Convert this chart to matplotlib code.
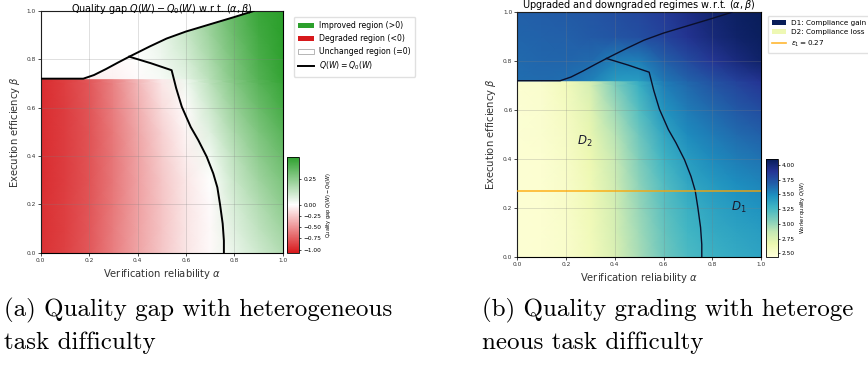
import numpy as np
import matplotlib
matplotlib.use("Agg")
import matplotlib.pyplot as plt
from matplotlib.colors import LinearSegmentedColormap, TwoSlopeNorm, Normalize
from matplotlib.patches import Patch, Polygon
from matplotlib.lines import Line2D

# ---------------- data ----------------
alpha_grid = [0.0, 0.1, 0.2, 0.3, 0.4, 0.5, 0.6, 0.7, 0.8, 0.9, 1.0]
# beta 0.72 appears twice: value just below / just above the jump
beta_grid = [0.0, 0.1, 0.2, 0.3, 0.4, 0.5, 0.6, 0.7, 0.72, 0.72, 0.8, 0.9, 1.0]

gap_rows = [
    [-0.95, -0.88, -0.77, -0.60, -0.42, -0.26, -0.12, -0.03, 0.05, 0.11, 0.17],
    [-0.96, -0.89, -0.78, -0.61, -0.43, -0.27, -0.12, -0.03, 0.07, 0.14, 0.21],
    [-0.96, -0.89, -0.79, -0.62, -0.44, -0.27, -0.12, -0.02, 0.09, 0.17, 0.25],
    [-0.97, -0.90, -0.80, -0.63, -0.44, -0.26, -0.11, 0.00, 0.12, 0.21, 0.29],
    [-0.97, -0.90, -0.80, -0.63, -0.43, -0.24, -0.08, 0.03, 0.15, 0.25, 0.33],
    [-0.97, -0.90, -0.80, -0.62, -0.41, -0.21, -0.05, 0.07, 0.19, 0.29, 0.37],
    [-0.97, -0.90, -0.79, -0.60, -0.38, -0.16, -0.01, 0.11, 0.23, 0.33, 0.41],
    [-0.97, -0.89, -0.78, -0.58, -0.34, -0.11, 0.03, 0.15, 0.27, 0.37, 0.44],
    [-0.97, -0.89, -0.77, -0.57, -0.33, -0.10, 0.04, 0.16, 0.28, 0.38, 0.45],
    [0.00, 0.00, -0.08, -0.06, -0.02, 0.02, 0.06, 0.16, 0.28, 0.38, 0.45],
    [0.00, 0.00, 0.00, -0.03, 0.00, 0.04, 0.09, 0.19, 0.30, 0.40, 0.46],
    [0.00, 0.00, 0.00, 0.00, 0.00, 0.05, 0.12, 0.22, 0.33, 0.42, 0.47],
    [0.00, 0.00, 0.00, 0.00, 0.00, 0.06, 0.14, 0.24, 0.35, 0.44, 0.47],
]

quality_rows = [
    [2.48, 2.49, 2.52, 2.60, 2.76, 2.95, 3.12, 3.24, 3.30, 3.34, 3.37],
    [2.48, 2.49, 2.52, 2.61, 2.78, 2.97, 3.15, 3.27, 3.34, 3.38, 3.41],
    [2.48, 2.49, 2.53, 2.62, 2.80, 3.00, 3.18, 3.31, 3.38, 3.43, 3.47],
    [2.48, 2.49, 2.53, 2.63, 2.82, 3.03, 3.22, 3.36, 3.43, 3.49, 3.53],
    [2.48, 2.49, 2.54, 2.65, 2.85, 3.07, 3.28, 3.42, 3.50, 3.56, 3.60],
    [2.48, 2.50, 2.55, 2.68, 2.90, 3.13, 3.36, 3.50, 3.57, 3.63, 3.68],
    [2.48, 2.50, 2.57, 2.72, 2.97, 3.21, 3.46, 3.57, 3.64, 3.71, 3.77],
    [2.49, 2.51, 2.60, 2.78, 3.06, 3.31, 3.55, 3.64, 3.72, 3.80, 3.87],
    [2.49, 2.51, 2.61, 2.80, 3.08, 3.34, 3.57, 3.66, 3.74, 3.82, 3.89],
    [3.62, 3.63, 3.62, 3.55, 3.42, 3.42, 3.58, 3.67, 3.75, 3.83, 3.90],
    [3.64, 3.65, 3.66, 3.64, 3.55, 3.55, 3.68, 3.78, 3.88, 3.97, 4.04],
    [3.66, 3.67, 3.68, 3.70, 3.73, 3.76, 3.82, 3.90, 3.98, 4.04, 4.08],
    [3.68, 3.69, 3.70, 3.72, 3.76, 3.80, 3.86, 3.94, 4.01, 4.06, 4.09],
]

upper_alpha = [0.0, 0.176, 0.22, 0.27, 0.32, 0.366, 0.45, 0.52, 0.60, 0.713, 0.80, 0.88]
upper_beta = [0.72, 0.72, 0.735, 0.76, 0.787, 0.811, 0.853, 0.886, 0.915, 0.949, 0.975, 1.0]

lower_alpha = [0.366, 0.455, 0.541, 0.560, 0.583, 0.620, 0.651, 0.686, 0.713, 0.730, 0.741, 0.752, 0.757, 0.757]
lower_beta = [0.811, 0.784, 0.755, 0.680, 0.604, 0.520, 0.466, 0.397, 0.328, 0.270, 0.200, 0.120, 0.050, 0.0]

epsilon1 = 0.27
gap_ticks = [0.25, 0.0, -0.25, -0.5, -0.75, -1.0]
quality_ticks = [2.50, 2.75, 3.00, 3.25, 3.50, 3.75, 4.00]
axis_ticks = [0.0, 0.2, 0.4, 0.6, 0.8, 1.0]

# ---------------- figure ----------------
W, H = 868, 366
fig = plt.figure(figsize=(W / 100, H / 100), dpi=100)


def fax(x0, y0, x1, y1):
    return fig.add_axes([x0 / W, 1 - y1 / H, (x1 - x0) / W, (y1 - y0) / H])


A, B = np.meshgrid(alpha_grid, beta_grid)
GAP = np.array(gap_rows)
QUAL = np.array(quality_rows)

tick_fs = 4.2
lab_fs = 7.2


def style_axes(ax):
    ax.set_xlim(0, 1)
    ax.set_ylim(0, 1)
    ax.set_xticks(axis_ticks)
    ax.set_yticks(axis_ticks)
    ax.tick_params(labelsize=tick_fs, length=2, width=0.5, pad=1.5, labelcolor="#333333")
    ax.grid(True, color="gray", alpha=0.35, lw=0.5)
    ax.set_axisbelow(False)
    ax.set_xlabel(r"Verification reliability $\alpha$", fontsize=lab_fs, labelpad=3.5, color="#333333")
    ax.set_ylabel(r"Execution efficiency $\beta$", fontsize=lab_fs, labelpad=3.5, color="#333333")
    for s in ax.spines.values():
        s.set_linewidth(0.8)


# ---- left panel ----
axL = fax(40.7, 11, 282.7, 252.7)
gap_cmap = LinearSegmentedColormap.from_list("gap", ["#d7191c", "white", "#2ca02c"])
gap_norm = TwoSlopeNorm(vmin=-1.07, vcenter=0.0, vmax=0.47)
meshL = axL.pcolormesh(A, B, GAP, cmap=gap_cmap, norm=gap_norm, shading="gouraud", zorder=1)
clip_verts = [(0, 0)] + list(zip(upper_alpha, upper_beta)) + [(1, 1), (1, 0)]
clipL = Polygon(clip_verts, closed=True, transform=axL.transData, facecolor="none", edgecolor="none")
axL.add_patch(clipL)
meshL.set_clip_path(clipL)
axL.plot(upper_alpha, upper_beta, color="black", lw=1.4, zorder=3)
axL.plot(lower_alpha, lower_beta, color="black", lw=1.4, zorder=3)
style_axes(axL)
axL.set_title(r"Quality gap $Q(W) - Q_0(W)$ w.r.t. $(\alpha, \beta)$", fontsize=6.9, pad=0, y=0.997)

caxL = fax(286.7, 156.7, 299.3, 252.7)
cbL = fig.colorbar(meshL, cax=caxL)
cbL.set_ticks(gap_ticks)
cbL.set_ticklabels([f"{t:.2f}".replace("-", "\u2212") for t in gap_ticks])
cbL.ax.tick_params(labelsize=tick_fs, length=1.5, width=0.5, pad=1.5)
cbL.set_label(r"Quality gap $Q(W) - Q_0(W)$", fontsize=3.6, labelpad=2)
cbL.outline.set_linewidth(0.6)

handlesL = [
    Patch(facecolor="#2ca02c", label="Improved region (>0)"),
    Patch(facecolor="#d7191c", label="Degraded region (<0)"),
    Patch(facecolor="white", edgecolor="#999999", lw=0.5, label="Unchanged region (=0)"),
    Line2D([], [], color="black", lw=1.4, label=r"$Q(W) = Q_0(W)$"),
]
fig.legend(handles=handlesL, loc="upper left", bbox_to_anchor=(290 / W, 1 - 13 / H),
           fontsize=5.6, frameon=True, framealpha=0.9, edgecolor="#dddddd",
           handlelength=2.0, labelspacing=0.5, borderpad=0.55, handletextpad=0.7)

# ---- right panel ----
axR = fax(517.3, 12.3, 761, 256.7)
q_norm = Normalize(vmin=2.446, vmax=4.10)
meshR = axR.pcolormesh(A, B, QUAL, cmap="YlGnBu", norm=q_norm, shading="gouraud", zorder=1)
axR.plot(upper_alpha, upper_beta, color="#0b0f2a", lw=1.0, zorder=3)
axR.plot(lower_alpha, lower_beta, color="#0b0f2a", lw=1.0, zorder=3)
axR.axhline(epsilon1, color="orange", lw=1.2, alpha=0.8, zorder=3)
axR.text(0.277, 0.47, r"$D_2$", fontsize=8.5, color="#1a1a2e", ha="center", va="center")
axR.text(0.907, 0.202, r"$D_1$", fontsize=8.5, color="#1a1a2e", ha="center", va="center")
style_axes(axR)
axR.set_title(r"Upgraded and downgraded regimes w.r.t. $(\alpha, \beta)$", fontsize=7.0, pad=0.8)

caxR = fax(765.7, 159, 777.5, 256.5)
cbR = fig.colorbar(meshR, cax=caxR)
cbR.set_ticks(quality_ticks)
cbR.set_ticklabels([f"{t:.2f}" for t in quality_ticks])
cbR.ax.tick_params(labelsize=tick_fs, length=1.5, width=0.5, pad=1.5)
cbR.set_label(r"Worker quality $Q(W)$", fontsize=3.6, labelpad=2)
cbR.outline.set_linewidth(0.6)

handlesR = [
    Patch(facecolor="#081d58", label="D1: Compliance gain"),
    Patch(facecolor="#eef8b4", label="D2: Compliance loss"),
    Line2D([], [], color="orange", lw=1.2, alpha=0.8, label=r"$\epsilon_1 = 0.27$"),
]
fig.legend(handles=handlesR, loc="upper left", bbox_to_anchor=(764 / W, 1 - 12 / H),
           fontsize=5.2, frameon=True, framealpha=0.9, edgecolor="#dddddd",
           handlelength=2.0, labelspacing=0.5, borderpad=0.55, handletextpad=0.7)

# ---- captions ----
cap_fs = 18.0
fig.text(4 / W, 1 - 316 / H, "(a) Quality gap with heterogeneous", fontfamily="cmr10",
         fontsize=cap_fs, ha="left", va="baseline")
fig.text(4 / W, 1 - 349 / H, "task difficulty", fontfamily="cmr10",
         fontsize=cap_fs, ha="left", va="baseline")
fig.text(482 / W, 1 - 316 / H, "(b) Quality grading with heteroge", fontfamily="cmr10",
         fontsize=cap_fs, ha="left", va="baseline")
fig.text(482 / W, 1 - 349 / H, "neous task difficulty", fontfamily="cmr10",
         fontsize=cap_fs, ha="left", va="baseline")

fig.savefig("out.png", dpi=100)
